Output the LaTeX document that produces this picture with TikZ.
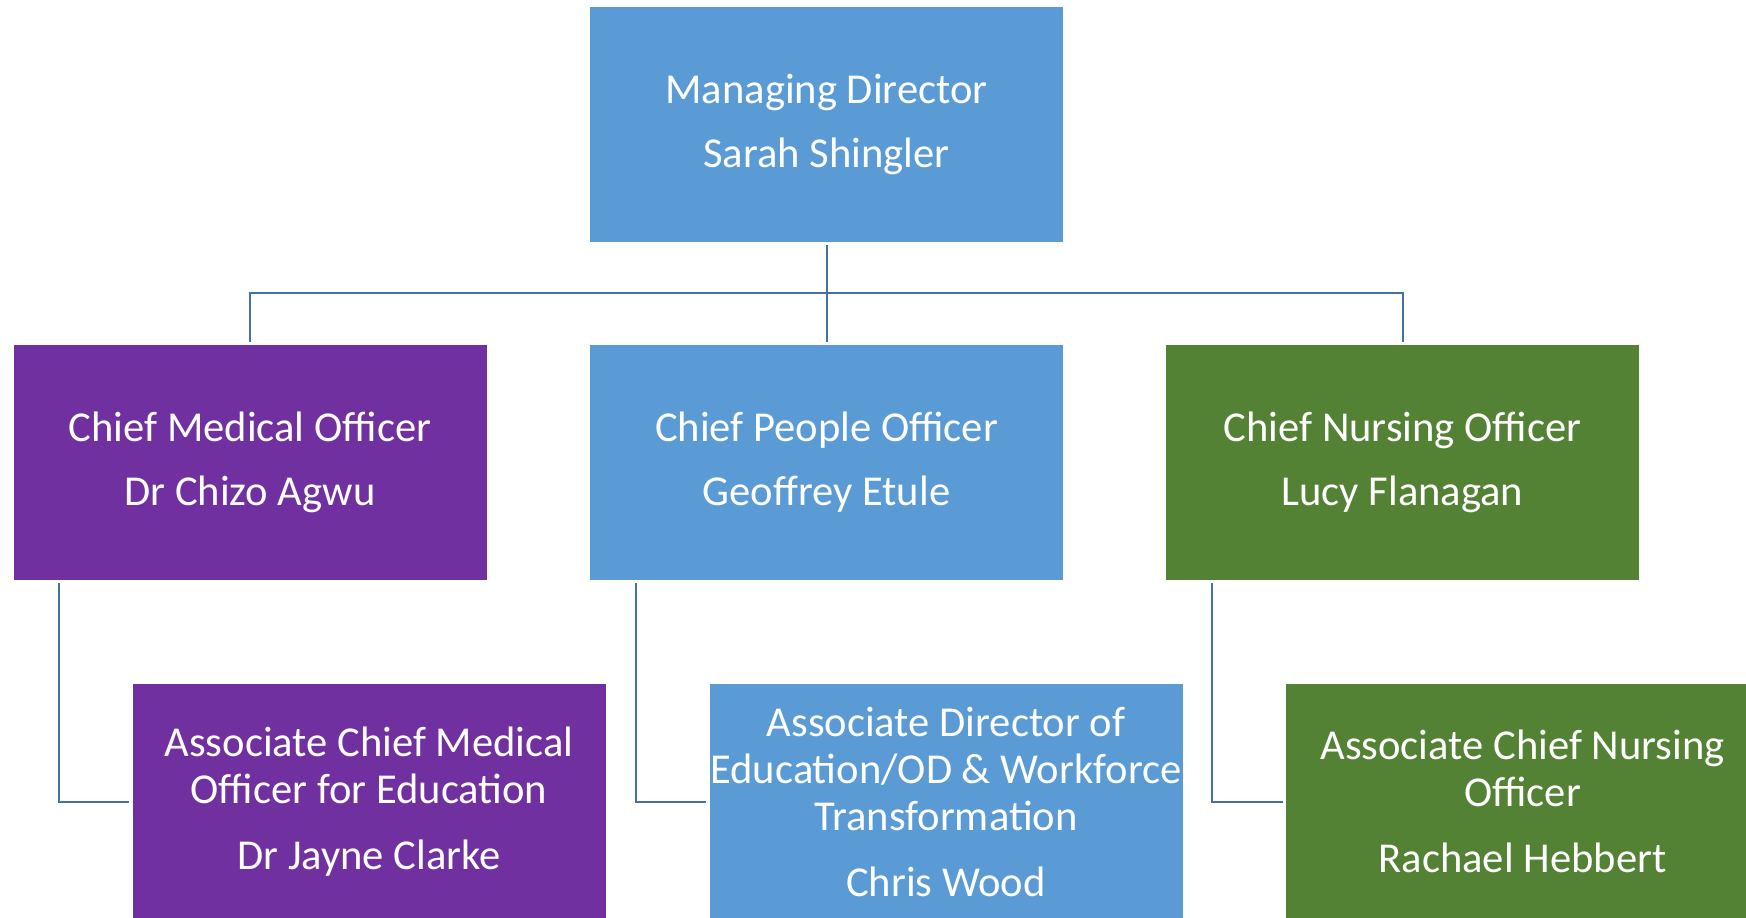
\documentclass[tikz,border=0pt]{standalone}
\usepackage{fontspec}
\setmainfont{Carlito}
\usepackage{tikz}
\definecolor{boxblue}{RGB}{91,155,213}
\definecolor{boxpurple}{RGB}{112,48,160}
\definecolor{boxgreen}{RGB}{84,130,53}
\definecolor{linkblue}{RGB}{68,114,160}
\tikzstyle{post}=[rectangle,minimum width=236.5pt,minimum height=117.5pt,inner sep=0pt,text=white,align=center,font=\fontsize{21.3}{23.5}\selectfont]
\tikzstyle{link}=[draw=linkblue,line width=1pt,shorten <=1.5pt,shorten >=1.5pt]

\begin{document}
\begin{tikzpicture}[x=0.5pt,y=-0.5pt]
\clip (0, 0) rectangle (1746, 917);
\node[post,fill=boxblue] at (826.5, 124.5) (md) {Managing Director\\[8.5pt]Sarah Shingler};
\node[post,fill=boxpurple] at (250, 462.5) (cmo) {Chief Medical Officer\\[8.5pt]Dr Chizo Agwu};
\node[post,fill=boxblue] at (826.5, 462.5) (cpo) {Chief People Officer\\[8.5pt]Geoffrey Etule};
\node[post,fill=boxgreen] at (1402.5, 462.5) (cno) {Chief Nursing Officer\\[8.5pt]Lucy Flanagan};
\node[post,fill=boxpurple] at (369, 801.5) (acmo) {Associate Chief Medical\\Officer for Education\\[9.5pt]Dr Jayne Clarke};
\node[post,fill=boxblue] at (946, 801.5) (adet) {Associate Director of\\Education/OD \& Workforce\\Transformation\\[9.5pt]Chris Wood};
\node[post,fill=boxgreen] at (1522.5, 801.5) (acno) {Associate Chief Nursing\\Officer\\[9.5pt]Rachael Hebbert};
\coordinate (bus) at (826.5, 293);
\draw[link] (md) -- (cpo);
\draw[link] (cmo) |- (bus) -| (cno);
\draw[link] ([xshift=23pt]cmo.south west) |- (acmo);
\draw[link] ([xshift=23pt]cpo.south west) |- (adet);
\draw[link] ([xshift=23pt]cno.south west) |- (acno);
\end{tikzpicture}
\end{document}
